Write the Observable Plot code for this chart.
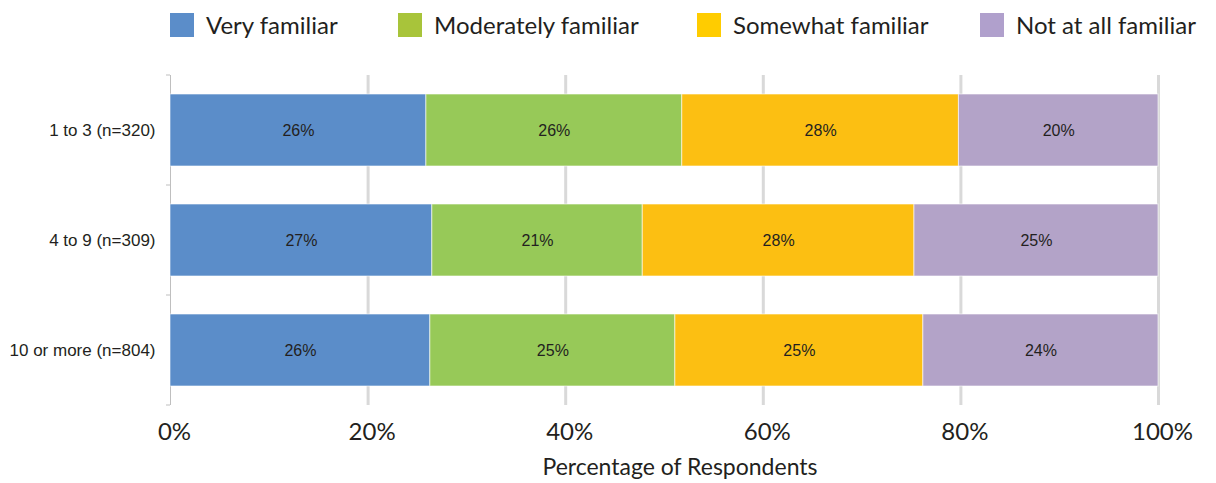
<!DOCTYPE html>
<html>
<head>
<meta charset="utf-8">
<script src="https://cdn.jsdelivr.net/npm/d3@7"></script>
<script src="https://cdn.jsdelivr.net/npm/@observablehq/plot@0.6"></script>
<style>
  html, body { margin: 0; padding: 0; background: #fff; }
  #wrap { position: relative; width: 1216px; height: 483px; overflow: hidden; }
  #legend { position: relative; height: 50px; width: 1216px; font-family: Lato, "Open Sans", sans-serif; font-size: 24px; color: #231f20; }
  .item { position: absolute; top: 10px; display: flex; align-items: center; white-space: nowrap; }
  .sw { width: 24px; height: 24px; margin-right: 12px; }
  svg { display: block; }
</style>
</head>
<body>
<div id="wrap">
  <div id="legend"></div>
  <div id="chart"></div>
</div>
<script>
const categories = ["1 to 3 (n=320)", "4 to 9 (n=309)", "10 or more (n=804)"];
const seriesNames = ["Very familiar", "Moderately familiar", "Somewhat familiar", "Not at all familiar"];
const veryFamiliar = [25.9, 26.5, 26.3];
const moderatelyFamiliar = [25.9, 21.3, 24.8];
const somewhatFamiliar = [28.0, 27.5, 25.1];
const notAtAllFamiliar = [20.2, 24.7, 23.8];
const xTicks = [0, 20, 40, 60, 80, 100];
const barColors = ["#5b8dc9", "#97c958", "#fcbf12", "#b3a3c8"];
const legendColors = ["#5b8dc9", "#a8c43a", "#ffcc00", "#b0a0cc"];
const legendLeft = [170, 398, 697, 980];

const seriesValues = [veryFamiliar, moderatelyFamiliar, somewhatFamiliar, notAtAllFamiliar];
const data = [];
categories.forEach((c, i) => {
  seriesNames.forEach((s, j) => data.push({cat: c, series: s, value: seriesValues[j][i]}));
});

// Legend
const legend = document.getElementById("legend");
seriesNames.forEach((s, j) => {
  const it = document.createElement("div");
  it.className = "item";
  it.style.left = legendLeft[j] + "px";
  it.innerHTML = `<div class="sw" style="background:${legendColors[j]}"></div><span>${s}</span>`;
  legend.appendChild(it);
});

const W = 1216, H = 433;
const mL = 170, mR = 58, mT = 25, mB = 78;

const plot = Plot.plot({
  width: W,
  height: H,
  marginLeft: mL,
  marginRight: mR,
  marginTop: mT,
  marginBottom: mB,
  style: {background: "#fff", overflow: "visible"},
  x: {domain: [0, 100], ticks: xTicks, tickFormat: d => d + "%"},
  y: {domain: categories, paddingInner: 0.345, paddingOuter: 0.1725},
  color: {domain: seriesNames, range: barColors},
  marks: [
    Plot.ruleX(xTicks.filter(t => t > 0), {stroke: "#d9d9d9", strokeWidth: 3}),
    Plot.ruleX([0], {stroke: "#bfbfbf", strokeWidth: 1}),
    Plot.barX(data, Plot.stackX({x: "value", y: "cat", fill: "series", order: seriesNames, stroke: "#ffffff", strokeOpacity: 0.6, strokeWidth: 1})),
    Plot.text(data, Plot.stackX({x: "value", y: "cat", z: "series", order: seriesNames, text: d => Math.round(d.value) + "%", fill: "#231f20", fontSize: 16, fontFamily: "Liberation Sans, Arial, sans-serif"})),
    Plot.axisX({ticks: xTicks, tickFormat: d => d + "%", tickSize: 0, tickPadding: 17, fontSize: 24, fontFamily: "Lato, sans-serif", fill: "#231f20", label: null, dx: 4}),
    Plot.axisY({tickSize: 0, tickPadding: 15, fontSize: 17, fontFamily: "Liberation Sans, Arial, sans-serif", fill: "#231f20", label: null}),
    // separator ticks between categories
    (index, scales, values, dims) => {
      const g = d3.create("svg:g");
      const n = categories.length;
      const ph = dims.height - dims.marginTop - dims.marginBottom;
      for (let i = 0; i <= n; i++) {
        const yy = dims.marginTop + i * ph / n;
        g.append("line").attr("x1", dims.marginLeft - 4).attr("x2", dims.marginLeft)
          .attr("y1", yy).attr("y2", yy).attr("stroke", "#bfbfbf").attr("stroke-width", 1);
      }
      return g.node();
    }
  ]
});

d3.select(plot).append("text")
  .attr("x", 680).attr("y", H - 8)
  .attr("text-anchor", "middle")
  .attr("font-family", "Lato, sans-serif")
  .attr("font-size", 23)
  .attr("fill", "#231f20")
  .text("Percentage of Respondents");

document.getElementById("chart").appendChild(plot);
</script>
</body>
</html>
